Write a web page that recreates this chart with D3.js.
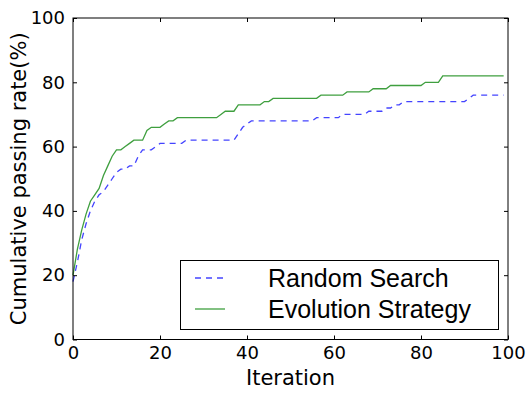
<!DOCTYPE html>
<html><head><meta charset="utf-8">
<script src="https://cdn.jsdelivr.net/npm/d3@7"></script>
<style>body{margin:0;background:#fff}svg{display:block}</style>
</head><body>
<svg id="c" width="528" height="393"></svg>
<script>
const seriesNames = ["Random Search", "Evolution Strategy"];
const randomSearch = [18,24,31,36,40,43,45,46,48,50, 52,53,53,54,54,57,59,59,59,60, 61,61,61,61,61,61,62,62,62,62, 62,62,62,62,62,62,62,62,64,66, 67,68,68,68,68,68,68,68,68,68, 68,68,68,68,68,68,69,69,69,69, 69,69,70,70,70,70,70,70,71,71, 71,71,72,72,73,73,74,74,74,74, 74,74,74,74,74,74,74,74,74,74, 74,75,76,76,76,76,76,76,76,76];
const evolutionStrategy = [20,28,34,39,43,45,47,51,54,57, 59,59,60,61,62,62,62,65,66,66, 66,67,68,68,69,69,69,69,69,69, 69,69,69,69,70,71,71,71,73,73, 73,73,73,73,74,74,75,75,75,75, 75,75,75,75,75,75,75,76,76,76, 76,76,76,77,77,77,77,77,77,78, 78,78,78,79,79,79,79,79,79,79, 79,80,80,80,80,82,82,82,82,82, 82,82,82,82,82,82,82,82,82,82];
const xTicks = [0,20,40,60,80,100];
const yTicks = [0,20,40,60,80,100];
const xLabel = "Iteration";
const yLabel = "Cumulative passing rate(%)";

const svg = d3.select("#c");
const L = 73, R = 508, T = 18, B = 339.5;
const x = d3.scaleLinear().domain([0,100]).range([L,R]);
const y = d3.scaleLinear().domain([0,100]).range([B,T]);

const tickFont = "DejaVu Sans";
// lines
const line = d3.line().x((d,i)=>x(i)).y(d=>y(d));
const styles = [
  {data: randomSearch, color:"#4444ff", dash:"6,5"},
  {data: evolutionStrategy, color:"#3f9f3f", dash:null}
];
const g = svg.append("g");
styles.forEach(s=>{
  g.append("path").datum(s.data).attr("d", line).attr("fill","none")
   .attr("stroke", s.color).attr("stroke-width",1.3)
   .attr("stroke-dasharray", s.dash);
});

// axes (ticks inside)
const axB = d3.axisBottom(x).tickValues(xTicks).tickSize(-4).tickPadding(7).tickFormat(d3.format("d"));
const axT = d3.axisTop(x).tickValues(xTicks).tickSize(-4).tickFormat("");
const axLf = d3.axisLeft(y).tickValues(yTicks).tickSize(-4).tickPadding(8).tickFormat(d3.format("d"));
const axRt = d3.axisRight(y).tickValues(yTicks).tickSize(-4).tickFormat("");
function style(sel){
  sel.select(".domain").remove();
  sel.selectAll("line").attr("stroke","#000").attr("stroke-width",1);
  sel.selectAll("text").attr("font-family",tickFont).attr("font-size",18).attr("fill","#000");
}
svg.append("g").attr("transform",`translate(0,${B})`).call(axB).call(style);
svg.append("g").attr("transform",`translate(0,${T})`).call(axT).call(style);
svg.append("g").attr("transform",`translate(${L},0)`).call(axLf).call(style);
svg.append("g").attr("transform",`translate(${R},0)`).call(axRt).call(style);
svg.append("rect").attr("x",L).attr("y",T).attr("width",R-L).attr("height",B-T)
  .attr("fill","none").attr("stroke","#000").attr("stroke-width",1);

// axis labels
svg.append("text").attr("x",(L+R)/2).attr("y",385).attr("text-anchor","middle")
  .attr("font-family",tickFont).attr("font-size",21).text(xLabel);
svg.append("text").attr("transform",`translate(26,${(T+B)/2}) rotate(-90)`).attr("text-anchor","middle")
  .attr("font-family",tickFont).attr("font-size",21).text(yLabel);

// legend
const lg = svg.append("g");
lg.append("rect").attr("x",180.5).attr("y",260.5).attr("width",318).attr("height",69)
  .attr("fill","#fff").attr("stroke","#000").attr("stroke-width",1);
styles.forEach((s,i)=>{
  const yy = 278 + i*31;
  lg.append("line").attr("x1",195).attr("x2",225).attr("y1",yy).attr("y2",yy)
    .attr("stroke",s.color).attr("stroke-width",1.3).attr("stroke-dasharray", s.dash);
  lg.append("text").attr("x",268).attr("y",yy+8.5).attr("font-family","Liberation Sans, Arial")
    .attr("font-size",25).attr("fill","#000").text(seriesNames[i]);
});
</script>
</body></html>
